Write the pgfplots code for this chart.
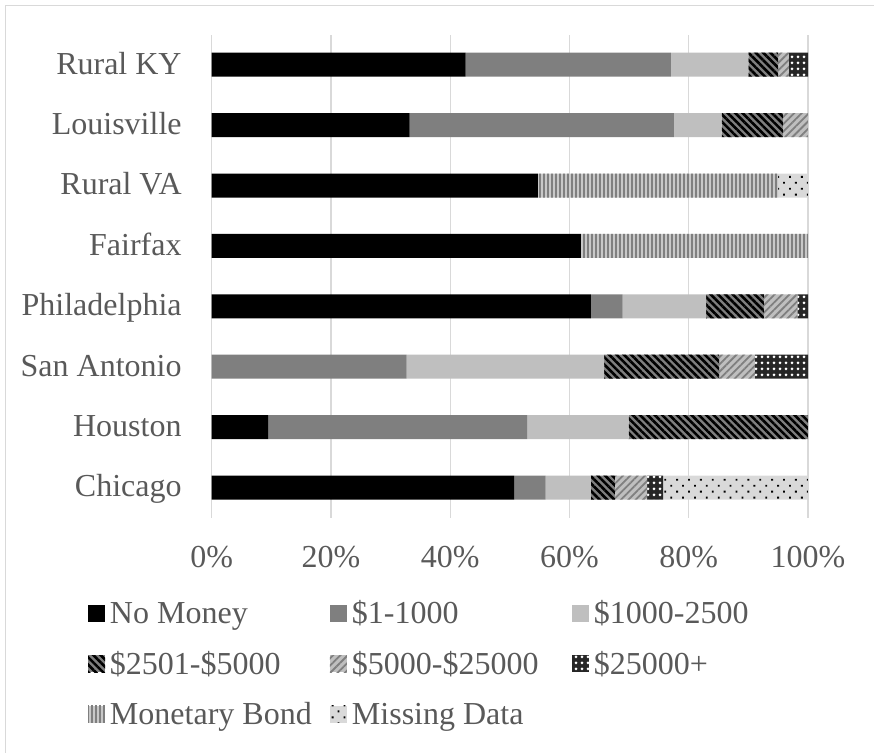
\documentclass[border=0pt]{standalone}
\usepackage{pgfplots}
\pgfplotsset{compat=1.18}
\usepackage{fontspec}
\setmainfont{Liberation Serif}
\usetikzlibrary{patterns.meta}
\definecolor{txt}{RGB}{89,89,89}
\definecolor{gridc}{RGB}{217,217,217}
\definecolor{midg}{RGB}{127,127,127}
\definecolor{lightg}{RGB}{191,191,191}
\definecolor{bondbg}{RGB}{200,200,200}
\definecolor{missbg}{RGB}{217,217,217}
\newcommand{\lt}[1]{\kern2.5pt\makebox[110pt][l]{#1}}
\begin{document}
\begin{tikzpicture}
\useasboundingbox (0pt,0pt) rectangle (437pt,-376.5pt);
\draw[gridc, line width=0.6pt] (2.85pt,-376.5pt) -- (2.85pt,-2.85pt) -- (437pt,-2.85pt);
\begin{axis}[
  at={(105.85pt,-258.85pt)}, anchor=south west,
  scale only axis, width=298.15pt, height=241.6pt,
  xbar stacked, bar width=12pt,
  xmin=0, xmax=100, ymin=-0.5, ymax=7.5,
  xtick={0,20,40,60,80,100},
  xticklabels={0\%,20\%,40\%,60\%,80\%,100\%},
  ytick={0,...,7},
  yticklabels={Chicago,Houston,San Antonio,Philadelphia,Fairfax,Rural VA,Louisville,Rural KY},
  xmajorgrids, grid style={gridc, line width=0.6pt},
  axis line style={draw=none}, major tick length=0pt, tick style={draw=none},
  font=\fontsize{16}{19}\selectfont, 
  every tick label/.append style={text=txt, inner sep=0pt, font=\fontsize{16}{19}\selectfont},
  xticklabel style={anchor=base, yshift=-24.65pt},
  yticklabel style={anchor=base east, xshift=-14.85pt, yshift=-4.65pt},
  legend image code/.code={\path[#1, draw=none] (0pt,1.05pt) rectangle (8.5pt,9.55pt);},
  legend columns=3,
  legend style={at={(-0.20745,-0.17446)}, anchor=north west, draw=none, fill=none,
    inner sep=0pt, outer sep=0pt, column sep=0pt, row sep=10.25pt,
    cells={anchor=base west},
    nodes={inner sep=0pt, text height=11pt, text depth=4pt, text=txt, font=\fontsize{16}{19}\selectfont}},
]
% order of y: Chicago, Houston, San Antonio, Philadelphia, Fairfax, Rural VA, Louisville, Rural KY
\addplot[fill=black, draw=none] coordinates {(50.7,0) (9.5,1) (0,2) (63.6,3) (61.9,4) (54.7,5) (33.2,6) (42.6,7)};
\addlegendentry{\lt{No Money}}
\addplot[fill=midg, draw=none] coordinates {(5.3,0) (43.4,1) (32.7,2) (5.3,3) (0,4) (0,5) (44.3,6) (34.4,7)};
\addlegendentry{\lt{\$1-1000}}
\addplot[fill=lightg, draw=none] coordinates {(7.6,0) (17.0,1) (33.1,2) (14.0,3) (0,4) (0,5) (8.0,6) (13.0,7)};
\addlegendentry{\lt{\$1000-2500}}
\addplot[fill=midg, draw=none, postaction={pattern={Lines[angle=-45, distance=2.6pt, line width=1.3pt]}, pattern color=black}] coordinates {(4.0,0) (30.1,1) (19.3,2) (9.7,3) (0,4) (0,5) (10.3,6) (5.0,7)};
\addlegendentry{\lt{\$2501-\$5000}}
\addplot[fill=lightg, draw=none, postaction={pattern={Lines[angle=45, distance=2.6pt, line width=0.9pt]}, pattern color=midg}] coordinates {(5.4,0) (0,1) (6.0,2) (5.6,3) (0,4) (0,5) (4.2,6) (1.8,7)};
\addlegendentry{\lt{\$5000-\$25000}}
\addplot[fill=black!85, draw=none, postaction={pattern={Dots[distance=3pt, radius=0.75pt]}, pattern color=white}] coordinates {(2.7,0) (0,1) (8.9,2) (1.8,3) (0,4) (0,5) (0,6) (3.2,7)};
\addlegendentry{\lt{\$25000+}}
\addplot[fill=bondbg, draw=none, postaction={pattern={Lines[angle=90, distance=2pt, line width=0.9pt]}, pattern color=midg}] coordinates {(0,0) (0,1) (0,2) (0,3) (38.1,4) (40.3,5) (0,6) (0,7)};
\addlegendentry{\lt{Monetary Bond}}
\addplot[fill=missbg, draw=none, postaction={pattern={Dots[angle=45, distance=4.2pt, radius=0.65pt]}, pattern color=black}] coordinates {(24.3,0) (0,1) (0,2) (0,3) (0,4) (5.0,5) (0,6) (0,7)};
\addlegendentry{\lt{Missing Data}}
\end{axis}
\end{tikzpicture}
\end{document}
